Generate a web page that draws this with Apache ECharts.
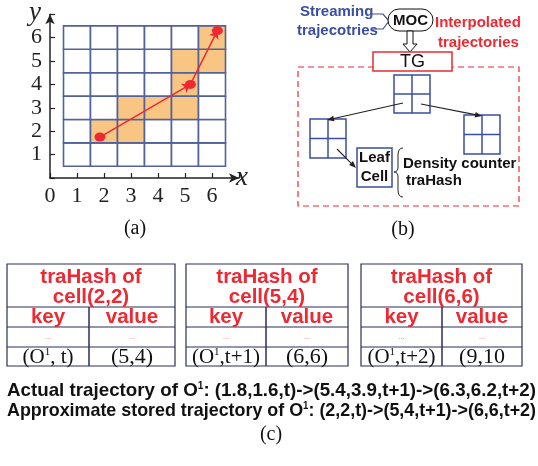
<!DOCTYPE html>
<html><head><meta charset="utf-8">
<script src="https://cdn.jsdelivr.net/npm/echarts@6/dist/echarts.min.js"></script>
<style>html,body{margin:0;padding:0;background:#fff}#c{width:538px;height:466px}</style>
</head><body><div id="c"></div>
<script>
// ---- data ----
const gridXs = [1, 2, 3, 4, 5, 6];
const gridYs = [1, 2, 3, 4, 5, 6];
const visitedCells = [[2,2],[3,2],[3,3],[4,3],[5,3],[5,4],[5,5],[6,5],[6,6]];
const trajectory = [[1.85, 1.75], [5.2, 4.0], [6.2, 6.3]];
const xTickLabels = ['0', '1', '2', '3', '4', '5', '6'];
const yTickLabels = ['1', '2', '3', '4', '5', '6'];
const tableCells = ['cell(2,2)', 'cell(5,4)', 'cell(6,6)'];
const tableKeys = ['t', 't+1', 't+2'];
const tableValues = ['(5,4)', '(6,6)', '(9,10'];
const actualTraj = '(1.8,1.6,t)->(5.4,3.9,t+1)->(6.3,6.2,t+2)';
const storedTraj = '(2,2,t)->(5,4,t+1)->(6,6,t+2)';

// ---- styles ----
const RED = '#ec2a33', BLUE = '#3b4ea0', ORANGE = '#f9c582', CELLLINE = '#52629a', NAVY = '#2b2e5c';
const SANS = 'Liberation Sans, Arial, sans-serif';
const SERIF = 'Liberation Serif, Times New Roman, serif';

const isVisited = (x, y) => visitedCells.some(c => c[0] === x && c[1] === y);
const cellData = [];
gridYs.forEach(y => gridXs.forEach(x => cellData.push([x, y, isVisited(x, y) ? 1 : 0])));
const segData = [];
for (let i = 0; i < trajectory.length - 1; i++) segData.push({ coords: [trajectory[i], trajectory[i + 1]] });

// ---- graphic helpers (diagram panels b and c) ----
const G = [];
const mctx = document.createElement('canvas').getContext('2d');
function measure(font, s) { mctx.font = font; return mctx.measureText(s).width; }
function txt(x, y, text, o, extra) {
  o = o || {};
  G.push(Object.assign({ type: 'text', x: x, y: y, z: 10, style: Object.assign({
    text: text, fontFamily: SANS, fontSize: 15, fontWeight: 'bold', fill: '#111',
    align: 'left', verticalAlign: 'middle' }, o) }, extra || {}));
}
function rect(x, y, w, h, stroke, lw, extra) {
  G.push({ type: 'rect', shape: Object.assign({ x: x, y: y, width: w, height: h }, extra && extra.shape || {}),
    style: Object.assign({ fill: '#fff', stroke: stroke, lineWidth: lw }, extra && extra.style || {}) });
}
function line(x1, y1, x2, y2, stroke, lw, dash) {
  G.push({ type: 'line', shape: { x1: x1, y1: y1, x2: x2, y2: y2 }, style: { stroke: stroke, lineWidth: lw, lineDash: dash || null } });
}
function curve(x1, y1, cx, cy, x2, y2) {
  G.push({ type: 'bezierCurve', shape: { x1: x1, y1: y1, cpx1: cx, cpy1: cy, x2: x2, y2: y2 }, style: { stroke: '#222', lineWidth: 1, fill: null } });
}
function arrow(x1, y1, x2, y2, color) {
  const a = Math.atan2(y2 - y1, x2 - x1), L = 7, W = 2.8;
  const bx = x2 - L * Math.cos(a), by = y2 - L * Math.sin(a);
  line(x1, y1, bx, by, color, 1.1);
  G.push({ type: 'polygon', shape: { points: [[x2, y2], [bx + W * Math.sin(a), by - W * Math.cos(a)], [bx - W * Math.sin(a), by + W * Math.cos(a)]] },
    style: { fill: color } });
}
function quad(x, y, w, h) {
  rect(x, y, w, h, BLUE, 1.5);
  line(x + w / 2, y, x + w / 2, y + h, BLUE, 1.5);
  line(x, y + h / 2, x + w, y + h / 2, BLUE, 1.5);
}

// panel (b)
txt(300, 12, 'Streaming', { fill: BLUE });
txt(297, 31, 'trajecotries', { fill: BLUE });
G.push({ type: 'polyline', shape: { points: [[372, 14], [383, 14], [389, 21]] }, style: { stroke: BLUE, lineWidth: 1.2, fill: null } });
G.push({ type: 'polyline', shape: { points: [[372, 29], [383, 29], [389, 21]] }, style: { stroke: BLUE, lineWidth: 1.2, fill: null } });
rect(388, 9, 45, 22, '#111', 1, { shape: { r: 11 } });
txt(410.5, 20.5, 'MOC', { align: 'center' });
txt(435, 23, 'Interpolated', { fill: RED });
txt(438, 43, 'trajectories', { fill: RED });
G.push({ type: 'polygon', shape: { points: [[407, 31], [413, 31], [413, 44], [417, 44], [410, 52], [403, 44], [407, 44]] },
  style: { fill: '#fff', stroke: '#111', lineWidth: 1 } });
rect(298, 67, 221, 139, RED, 1.2, { style: { fill: null, lineDash: [6, 4] } });
rect(373, 52, 79, 19, RED, 1.5);
txt(412.5, 62, 'TG', { align: 'center', fontWeight: 'normal', fontSize: 18 });
quad(394, 75, 36, 38);
quad(310, 119, 36, 39);
quad(464, 115, 36, 39);
arrow(403, 103, 327, 120, '#222');
arrow(421, 104, 482, 116, '#222');
arrow(337, 149, 356, 168, '#222');
rect(357, 148, 35, 39, BLUE, 1.5);
txt(374.5, 158, 'Leaf', { align: 'center' });
txt(374.5, 177, 'Cell', { align: 'center' });
curve(403, 148, 398, 148, 398, 155);
line(398, 155, 398, 167, '#222', 1);
curve(398, 167, 398, 172, 394, 172);
curve(394, 172, 398, 172, 398, 177);
line(398, 177, 398, 190, '#222', 1);
curve(398, 190, 398, 197, 403, 197);
txt(403, 164, 'Density counter');
txt(406, 181, 'traHash');
txt(403, 230, '(b)', { align: 'center', fontFamily: SERIF, fontWeight: 'normal', fontSize: 20 });
txt(135, 229, '(a)', { align: 'center', fontFamily: SERIF, fontWeight: 'normal', fontSize: 20 });

// panel (c)
const tableCols = [[7, 89, 175], [186, 266, 348], [361, 442, 522]];
const supRich = { s: { fontSize: 11, padding: [0, 0, 10, 0], fontFamily: SERIF } };
tableCols.forEach((c, i) => {
  const [x0, xd, x1] = c;
  rect(x0, 264, x1 - x0, 102, NAVY, 1.2);
  line(x0, 307, x1, 307, NAVY, 1.2);
  line(x0, 327, x1, 327, NAVY, 1.2);
  line(x0, 347, x1, 347, NAVY, 1.2);
  line(xd, 307, xd, 366, NAVY, 1.5);
  const cx = (x0 + x1) / 2;
  txt(cx, 277, 'traHash of', { align: 'center', fill: RED, fontSize: 20.5 });
  txt(cx, 297, tableCells[i], { align: 'center', fill: RED, fontSize: 20.5 });
  txt((x0 + xd) / 2, 317, 'key', { align: 'center', fill: RED, fontSize: 20.5 });
  txt((xd + x1) / 2, 317, 'value', { align: 'center', fill: RED, fontSize: 20.5 });
  txt((x0 + xd) / 2, 337, '...', { align: 'center', fill: '#f07070', fontSize: 8, fontWeight: 'normal' });
  txt((xd + x1) / 2, 337, '...', { align: 'center', fill: '#f07070', fontSize: 8, fontWeight: 'normal' });
  txt((x0 + xd) / 2, 357, '(O{s|1},' + (i === 0 ? ' ' : '') + tableKeys[i] + ')', { align: 'center', fontFamily: SERIF, fontWeight: 'normal', fontSize: 21, rich: supRich });
  txt((xd + x1) / 2, 357, tableValues[i], { align: 'center', fontFamily: SERIF, fontWeight: 'normal', fontSize: 22 });
});
const supB = { s: { fontSize: 10, fontWeight: 'bold', fontFamily: SANS, padding: [0, 0, 9, 0] } };
function fitLine(y, head, tail) {
  const fs = 18.5, target = 529;
  const w = measure('bold ' + fs + 'px ' + SANS, head + ': ' + tail) + measure('bold 10px ' + SANS, '1');
  txt(7, y, head + '{s|1}: ' + tail, { fontSize: fs, rich: supB }, { scaleX: target / w, originX: 0 });
}
fitLine(391, 'Actual trajectory of O', actualTraj);
fitLine(411, 'Approximate stored trajectory of O', storedTraj);
txt(271, 435, '(c)', { align: 'center', fontFamily: SERIF, fontWeight: 'normal', fontSize: 20 });

// ---- chart ----
const chart = echarts.init(document.getElementById('c'), null, { renderer: 'canvas' });
const axisCommon = {
  type: 'value', min: 0, max: 7, interval: 1, splitLine: { show: false },
  axisLine: { show: true, onZero: true, symbol: ['none', 'arrow'], symbolSize: [7, 10], lineStyle: { color: '#222', width: 1.5 } },
  axisTick: { show: true, inside: true, length: 5, lineStyle: { color: '#222', width: 1.2 } },
  nameTextStyle: { fontFamily: SERIF, fontStyle: 'italic', fontSize: 27, color: '#222' }
};
chart.setOption({
  animation: false,
  backgroundColor: '#fff',
  grid: { left: 50, top: 12, width: 189, height: 166, containLabel: false },
  xAxis: Object.assign({}, axisCommon, {
    name: 'x', nameLocation: 'end', nameGap: -3,
    nameTextStyle: Object.assign({}, axisCommon.nameTextStyle, { padding: [30, 0, 0, 0] }),
    axisLabel: { margin: 7, fontFamily: SERIF, fontSize: 22, color: '#222',
      formatter: v => (xTickLabels[v] !== undefined ? xTickLabels[v] : '') }
  }),
  yAxis: Object.assign({}, axisCommon, {
    name: 'y', nameLocation: 'end', nameGap: -14,
    nameTextStyle: Object.assign({}, axisCommon.nameTextStyle, { padding: [0, 30, 0, 0] }),
    axisLabel: { margin: 8, fontFamily: SERIF, fontSize: 22, color: '#222',
      formatter: v => (yTickLabels[v - 1] !== undefined && v > 0 ? yTickLabels[v - 1] : '') }
  }),
  series: [
    { type: 'custom', data: cellData, z: 1,
      renderItem: function (params, api) {
        const x = api.value(0), y = api.value(1);
        const p1 = api.coord([x - 0.5, y + 0.5]), p2 = api.coord([x + 0.5, y - 0.5]);
        return { type: 'rect', shape: { x: p1[0], y: p1[1], width: p2[0] - p1[0], height: p2[1] - p1[1] },
          style: { fill: api.value(2) ? ORANGE : '#fff', stroke: CELLLINE, lineWidth: 1.6 } };
      } },
    { type: 'lines', coordinateSystem: 'cartesian2d', data: segData, z: 3,
      symbol: ['none', 'arrow'], symbolSize: 8, lineStyle: { color: RED, width: 1.5, opacity: 1 } },
    { type: 'scatter', data: trajectory, symbol: 'circle', symbolSize: [11, 9], z: 4, itemStyle: { color: RED, opacity: 1 } }
  ],
  graphic: G
});
</script></body></html>
